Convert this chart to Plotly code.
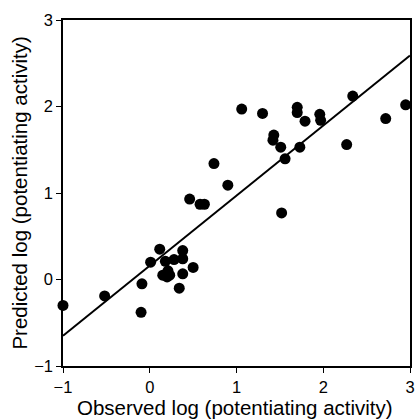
import plotly.graph_objects as go

observed = [-1.0, -0.52, -0.09, -0.10, 0.01, 0.115, 0.18, 0.28, 0.38, 0.38, 0.15, 0.20, 0.21, 0.23,
            0.50, 0.38, 0.34, 0.46, 0.58, 0.63, 0.90, 0.74, 1.06, 1.30, 1.43, 1.42, 1.51, 1.56,
            1.70, 1.70, 1.79, 1.73, 1.96, 1.97, 2.27, 2.34, 2.72, 2.95, 1.52]
predicted = [-0.30, -0.19, -0.05, -0.38, 0.20, 0.35, 0.21, 0.23, 0.335, 0.24, 0.05, 0.03, 0.10, 0.05,
             0.14, 0.066, -0.10, 0.93, 0.87, 0.87, 1.09, 1.34, 1.97, 1.92, 1.67, 1.61, 1.53, 1.395,
             1.99, 1.93, 1.83, 1.53, 1.91, 1.84, 1.56, 2.12, 1.86, 2.02, 0.77]

x_title = "Observed log (potentiating activity)"
y_title = "Predicted log (potentiating activity)"

fit_x = [-1, 3]
fit_slope = 0.81
fit_intercept = 0.16
fit_y = [fit_intercept + fit_slope * v for v in fit_x]

fig = go.Figure()
fig.add_trace(go.Scatter(x=fit_x, y=fit_y, mode="lines",
                         line=dict(color="black", width=2), showlegend=False))
fig.add_trace(go.Scatter(x=observed, y=predicted, mode="markers",
                         marker=dict(color="black", size=11), showlegend=False,
                         cliponaxis=False))

axis_common = dict(showgrid=False, zeroline=False, showline=True, linecolor="black",
                   linewidth=1.5, mirror=True, ticks="outside", tickwidth=1, ticklen=5,
                   tickcolor="black", tickfont=dict(size=16.5, color="black"),
                   dtick=1, tick0=0, automargin=False)

fig.update_layout(
    width=417, height=420,
    margin=dict(l=63, r=7, t=20, b=54),
    paper_bgcolor="white", plot_bgcolor="white",
    font=dict(family="Liberation Sans, Arial, sans-serif", color="black"),
    xaxis=dict(range=[-1, 3], **axis_common),
    yaxis=dict(range=[-1, 3], **axis_common),
    annotations=[
        dict(text=x_title, xref="paper", yref="paper", x=0.495, y=-0.156,
             xanchor="center", yanchor="bottom", showarrow=False, font=dict(size=20.5),
             borderpad=0),
        dict(text=y_title, xref="paper", yref="paper", x=-0.128, y=0.5,
             xanchor="center", yanchor="middle", textangle=-90, showarrow=False,
             font=dict(size=20.5)),
    ],
)

fig.write_html("out.html")
